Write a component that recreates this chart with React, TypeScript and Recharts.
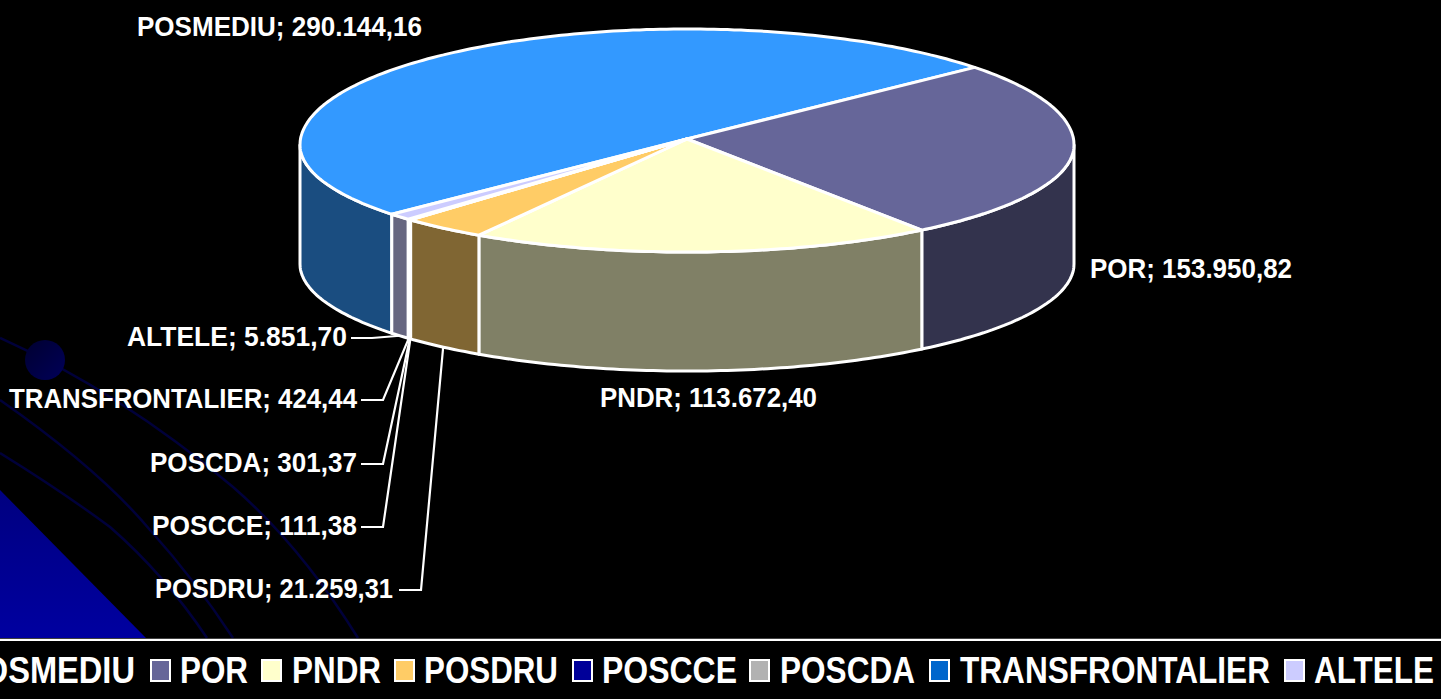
import React from "react";
import { PieChart, Pie, Legend } from "recharts";

const categories = ["POSMEDIU", "POR", "PNDR", "POSDRU", "POSCCE", "POSCDA", "TRANSFRONTALIER", "ALTELE"];
const values = [290144.16, 153950.82, 113672.4, 21259.31, 111.38, 301.37, 424.44, 5851.7];
const topColors = ["#3399FF", "#666699", "#FFFFCC", "#FFCC66", "#000099", "#B2B2B2", "#0066CC", "#CCCCFF"];
const sideColors = ["#1A4D80", "#33334D", "#808066", "#806633", "#00004D", "#595959", "#003366", "#666680"];

const tableData = categories.map((name, i) => ({ name, value: values[i] }));

const FONT = '"Liberation Sans", Arial, sans-serif';
const RIM_Y = 145;
const RY_BACK = 116;
const RY_FRONT = 107;
const DEPTH = 119;

// label left edge, text width, baseline, leader start and elbow
const labelLayout: Record<string, number[]> = {
  POSMEDIU: [137, 285, 36],
  POR: [1090, 202, 278],
  PNDR: [600, 217, 407],
  POSDRU: [155, 238, 598, 399, 421, 590],
  POSCCE: [152, 205, 535, 361, 383, 527],
  POSCDA: [150, 207, 472, 361, 383, 464],
  TRANSFRONTALIER: [9, 348, 408, 361, 383, 400],
  ALTELE: [127, 220, 346, 351, 372, 338],
};

// swatch x, text x, text width
const legendLayout = [
  [-68, -39, 174],
  [151, 180, 68],
  [262, 292, 89],
  [395, 424, 134],
  [573, 602, 135],
  [750, 780, 135],
  [930, 960, 310],
  [1285, 1314, 120],
];

const rad = (a: number) => (a * Math.PI) / 180;

function rimPoint(cx: number, r: number, a: number, drop = 0) {
  const s = Math.sin(rad(a));
  const y = s >= 0 ? RIM_Y - RY_BACK * s : RIM_Y - RY_FRONT * s;
  return [cx + r * Math.cos(rad(a)), y + drop];
}

function anglesBetween(start: number, end: number) {
  const out = [start];
  for (let a = Math.floor(start); a > end; a--) {
    if (a < start) out.push(a);
  }
  out.push(end);
  return out;
}

const toPath = (pts: number[][]) => pts.map((p, i) => `${i ? "L" : "M"}${p[0].toFixed(1)},${p[1].toFixed(1)}`).join(" ");

function TopShape(props: any) {
  const { cx, cy, outerRadius, startAngle, endAngle, index } = props;
  const rim = anglesBetween(startAngle, endAngle).map((a) => rimPoint(cx, outerRadius, a));
  return (
    <path
      d={`${toPath([[cx, cy], ...rim])} Z`}
      fill={topColors[index]}
      stroke="#fff"
      strokeWidth={3}
      strokeLinejoin="round"
    />
  );
}

function SideShape(props: any) {
  const { cx, outerRadius, startAngle, endAngle, index } = props;
  const front = anglesBetween(startAngle, endAngle).filter((a) => Math.sin(rad(a)) <= 1e-6);
  if (front.length < 2) return <g />;
  const upper = front.map((a) => rimPoint(cx, outerRadius, a));
  const lower = front.map((a) => rimPoint(cx, outerRadius, a, DEPTH)).reverse();
  return (
    <path
      d={`${toPath([...upper, ...lower])} Z`}
      fill={sideColors[index]}
      stroke="#fff"
      strokeWidth={3}
      strokeLinejoin="round"
    />
  );
}

const formatValue = (v: number) =>
  v.toLocaleString("de-DE", { minimumFractionDigits: 2, maximumFractionDigits: 2 });

function renderLabel(props: any) {
  const { index, cx, outerRadius, midAngle, value } = props;
  const name = categories[index];
  const [x, w, y, lineStart, elbow, lineY] = labelLayout[name];
  const anchor = rimPoint(cx, outerRadius, midAngle, DEPTH);
  return (
    <g key={name}>
      {lineStart !== undefined && (
        <polyline
          points={`${lineStart},${lineY} ${elbow},${lineY} ${anchor[0]},${anchor[1]}`}
          fill="none"
          stroke="#fff"
          strokeWidth={2.2}
        />
      )}
      <text
        x={x}
        y={y}
        textLength={w}
        lengthAdjust="spacingAndGlyphs"
        fill="#fff"
        fontFamily={FONT}
        fontWeight="bold"
        fontSize={28}
      >
        {`${name}; ${formatValue(value)}`}
      </text>
    </g>
  );
}

function LegendRow() {
  return (
    <svg width={1441} height={60} style={{ display: "block" }}>
      <line x1={0} x2={1441} y1={0} y2={0} stroke="#808080" strokeWidth={1} />
      <line x1={0} x2={1441} y1={2} y2={2} stroke="#fff" strokeWidth={2} />
      {categories.map((name, i) => {
        const [sx, tx, tw] = legendLayout[i];
        return (
          <g key={name}>
            <rect x={sx} y={22} width={19} height={21} fill={topColors[i]} stroke="#fff" strokeWidth={2} />
            <text
              x={tx}
              y={45}
              textLength={tw}
              lengthAdjust="spacingAndGlyphs"
              fill="#fff"
              fontFamily={FONT}
              fontWeight="bold"
              fontSize={36}
            >
              {name}
            </text>
          </g>
        );
      })}
    </svg>
  );
}

function Backdrop() {
  return (
    <svg width={1441} height={699} style={{ position: "absolute", left: 0, top: 0 }}>
      <defs>
        <linearGradient id="tri" x1="0" y1="0" x2="0" y2="1">
          <stop offset="0" stopColor="#000080" />
          <stop offset="1" stopColor="#0000A0" />
        </linearGradient>
        <linearGradient id="ball" x1="0" y1="0" x2="1" y2="1">
          <stop offset="0" stopColor="#000030" />
          <stop offset="1" stopColor="#000058" />
        </linearGradient>
      </defs>
      <path d="M0,490 L146,638 L0,638 Z" fill="url(#tri)" />
      <g fill="none" stroke="#00003A" strokeWidth={2.5}>
        <path d="M0,338 Q120,392 233,487 Q300,545 358,638" />
        <path d="M0,400 Q100,470 150,530 Q195,580 233,638" />
        <path d="M0,453 Q60,490 110,527 Q165,575 207,638" />
      </g>
      <circle cx={45} cy={360} r={20} fill="url(#ball)" />
    </svg>
  );
}

export default function App() {
  return (
    <div
      style={{
        position: "fixed",
        left: 0,
        top: 0,
        width: 1441,
        height: 699,
        background: "#000",
        overflow: "hidden",
      }}
    >
      <Backdrop />
      <div style={{ position: "absolute", left: 0, top: 0 }}>
        <PieChart width={1441} height={699} margin={{ top: 0, right: 0, bottom: 0, left: 0 }}>
          <Pie
            data={tableData}
            dataKey="value"
            nameKey="name"
            cx={687}
            cy={139}
            outerRadius={387}
            startAngle={220.3}
            endAngle={-139.7}
            isAnimationActive={false}
            shape={SideShape}
            legendType="none"
          />
          <Pie
            data={tableData}
            dataKey="value"
            nameKey="name"
            cx={687}
            cy={139}
            outerRadius={387}
            startAngle={220.3}
            endAngle={-139.7}
            isAnimationActive={false}
            shape={TopShape}
            label={renderLabel}
            labelLine={false}
          />
          <Legend
            verticalAlign="bottom"
            content={() => <LegendRow />}
            wrapperStyle={{ left: 0, top: 638, width: 1441, height: 60 }}
          />
        </PieChart>
      </div>
    </div>
  );
}
